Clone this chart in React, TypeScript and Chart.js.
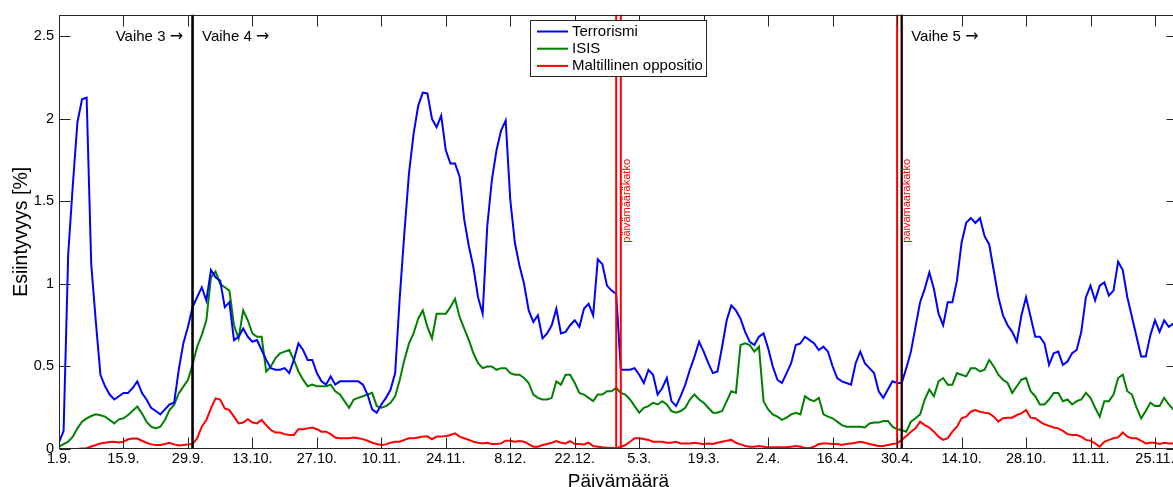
import React, { useEffect, useRef } from 'react';
import { Chart, registerables } from 'chart.js';

Chart.register(...registerables);

// Day index 0..243 over three date segments: 1.9.–31.12. | 1.3.–30.4. | 1.10.–30.11.
const tickIndex = [0, 14, 28, 42, 56, 70, 84, 98, 112, 126, 140, 154, 168, 182, 196, 210, 224, 238];
const tickLabels = ['1.9.', '15.9.', '29.9.', '13.10.', '27.10.', '10.11.', '24.11.', '8.12.', '22.12.', '5.3.', '19.3.', '2.4.', '16.4.', '30.4.', '14.10.', '28.10.', '11.11.', '25.11.'];
const yTicks = [0, 0.5, 1, 1.5, 2, 2.5];
const yTickLabels = ['0', '0.5', '1', '1.5', '2', '2.5'];

const seriesNames = ['Terrorismi', 'ISIS', 'Maltillinen oppositio'];
const seriesColors = ['#0000ff', '#008000', '#ff0000'];

const terrorismi = [
  0.04, 0.11, 1.18, 1.60, 1.98, 2.12, 2.13, 1.12, 0.77, 0.45,
  0.38, 0.33, 0.30, 0.32, 0.34, 0.34, 0.37, 0.41, 0.34, 0.30,
  0.25, 0.23, 0.21, 0.24, 0.27, 0.28, 0.48, 0.64, 0.74, 0.86,
  0.92, 0.98, 0.90, 1.085, 1.04, 1.02, 0.86, 0.89, 0.66, 0.68,
  0.73, 0.68, 0.65, 0.66, 0.60, 0.54, 0.49, 0.48, 0.48, 0.49,
  0.46, 0.54, 0.64, 0.60, 0.54, 0.54, 0.46, 0.41, 0.39, 0.44,
  0.39, 0.41, 0.41, 0.41, 0.41, 0.41, 0.39, 0.33, 0.24, 0.22,
  0.27, 0.31, 0.36, 0.46, 0.92, 1.31, 1.67, 1.91, 2.08, 2.16,
  2.155, 2.00, 1.95, 2.02, 1.81, 1.73, 1.73, 1.65, 1.39, 1.23,
  1.10, 0.92, 0.82, 1.35, 1.63, 1.81, 1.93, 1.99, 1.51, 1.25,
  1.11, 1.00, 0.84, 0.77, 0.81, 0.67, 0.70, 0.75, 0.85, 0.70,
  0.71, 0.75, 0.78, 0.74, 0.85, 0.88, 0.81, 1.15, 1.12, 0.99,
  0.96, 0.94, 0.48, 0.48, 0.48, 0.49, 0.45, 0.40, 0.48, 0.45,
  0.33, 0.37, 0.43, 0.29, 0.26, 0.32, 0.39, 0.48, 0.56, 0.65,
  0.59, 0.52, 0.46, 0.47, 0.62, 0.78, 0.87, 0.84, 0.79, 0.71,
  0.65, 0.63, 0.68, 0.70, 0.61, 0.50, 0.42, 0.40, 0.46, 0.52,
  0.63, 0.64, 0.68, 0.66, 0.64, 0.60, 0.62, 0.59, 0.50, 0.43,
  0.41, 0.40, 0.39, 0.52, 0.59, 0.52, 0.49, 0.46, 0.35, 0.31,
  0.36, 0.41, 0.40, 0.40, 0.49, 0.59, 0.74, 0.89, 0.97, 1.07,
  0.97, 0.82, 0.75, 0.89, 0.89, 1.02, 1.25, 1.37, 1.40, 1.37,
  1.40, 1.29, 1.24, 1.08, 0.92, 0.81, 0.75, 0.71, 0.65, 0.81,
  0.92, 0.80, 0.68, 0.68, 0.64, 0.51, 0.58, 0.59, 0.51, 0.53,
  0.58, 0.60, 0.71, 0.92, 0.99, 0.90, 0.99, 1.01, 0.93, 0.96,
  1.135, 1.085, 0.92, 0.80, 0.68, 0.56, 0.56, 0.69, 0.78, 0.71,
  0.78, 0.74, 0.76, 0.76,
];

const isis = [
  0.014, 0.03, 0.045, 0.075, 0.125, 0.165, 0.185, 0.20, 0.21, 0.205,
  0.196, 0.176, 0.155, 0.18, 0.186, 0.206, 0.232, 0.257, 0.216, 0.166,
  0.135, 0.125, 0.135, 0.176, 0.236, 0.267, 0.337, 0.378, 0.418, 0.51,
  0.62, 0.69, 0.78, 1.04, 1.075, 1.00, 0.98, 0.96, 0.75, 0.67,
  0.84, 0.78, 0.70, 0.68, 0.68, 0.47, 0.50, 0.55, 0.58, 0.59,
  0.60, 0.54, 0.47, 0.42, 0.38, 0.39, 0.38, 0.38, 0.38, 0.39,
  0.35, 0.33, 0.29, 0.25, 0.30, 0.31, 0.32, 0.33, 0.34, 0.26,
  0.25, 0.26, 0.28, 0.32, 0.42, 0.54, 0.64, 0.70, 0.79, 0.84,
  0.74, 0.67, 0.82, 0.82, 0.82, 0.86, 0.91, 0.80, 0.73, 0.66,
  0.58, 0.52, 0.49, 0.50, 0.50, 0.48, 0.49, 0.49, 0.46, 0.45,
  0.45, 0.43, 0.40, 0.33, 0.31, 0.30, 0.30, 0.31, 0.41, 0.39,
  0.45, 0.45, 0.40, 0.34, 0.33, 0.31, 0.29, 0.33, 0.33, 0.35,
  0.35, 0.37, 0.34, 0.33, 0.30, 0.26, 0.22, 0.25, 0.26, 0.28,
  0.27, 0.29, 0.27, 0.23, 0.22, 0.23, 0.25, 0.30, 0.33, 0.30,
  0.28, 0.25, 0.22, 0.22, 0.23, 0.29, 0.35, 0.34, 0.63, 0.64,
  0.63, 0.59, 0.62, 0.29, 0.24, 0.21, 0.196, 0.176, 0.19, 0.21,
  0.22, 0.21, 0.32, 0.30, 0.29, 0.31, 0.21, 0.196, 0.186, 0.166,
  0.145, 0.135, 0.135, 0.135, 0.135, 0.13, 0.155, 0.16, 0.16, 0.17,
  0.17, 0.135, 0.12, 0.115, 0.105, 0.166, 0.186, 0.21, 0.30, 0.36,
  0.32, 0.41, 0.43, 0.39, 0.39, 0.46, 0.45, 0.44, 0.49, 0.49,
  0.47, 0.48, 0.54, 0.50, 0.45, 0.42, 0.40, 0.34, 0.38, 0.42,
  0.43, 0.35, 0.32, 0.27, 0.27, 0.30, 0.34, 0.34, 0.29, 0.30,
  0.27, 0.29, 0.30, 0.34, 0.31, 0.25, 0.196, 0.29, 0.29, 0.33,
  0.43, 0.45, 0.35, 0.33, 0.25, 0.186, 0.23, 0.28, 0.26, 0.26,
  0.31, 0.27, 0.24, 0.24,
];

const maltillinen = [
  0, 0, 0, 0, 0, 0.003, 0.005, 0.015, 0.024, 0.034,
  0.038, 0.042, 0.044, 0.04, 0.044, 0.059, 0.063, 0.063, 0.05, 0.038,
  0.028, 0.024, 0.024, 0.03, 0.038, 0.028, 0.022, 0.024, 0.028, 0.03,
  0.065, 0.135, 0.176, 0.246, 0.307, 0.30, 0.246, 0.236, 0.196, 0.155,
  0.16, 0.18, 0.16, 0.155, 0.176, 0.145, 0.115, 0.10, 0.10, 0.09,
  0.085, 0.085, 0.12, 0.12, 0.125, 0.13, 0.12, 0.105, 0.105, 0.09,
  0.07, 0.065, 0.065, 0.065, 0.069, 0.065, 0.06, 0.05, 0.038, 0.03,
  0.024, 0.028, 0.038, 0.044, 0.044, 0.055, 0.065, 0.065, 0.07, 0.075,
  0.077, 0.059, 0.075, 0.075, 0.079, 0.085, 0.095, 0.075, 0.065, 0.055,
  0.044, 0.038, 0.034, 0.038, 0.03, 0.03, 0.034, 0.05, 0.05, 0.044,
  0.048, 0.044, 0.03, 0.014, 0.014, 0.024, 0.03, 0.038, 0.048, 0.038,
  0.034, 0.048, 0.03, 0.03, 0.028, 0.038, 0.018, 0.014, 0.01, 0.008,
  0.006, 0.004, 0.014, 0.024, 0.044, 0.065, 0.065, 0.06, 0.055, 0.044,
  0.044, 0.044, 0.038, 0.038, 0.044, 0.034, 0.034, 0.034, 0.038, 0.034,
  0.03, 0.034, 0.03, 0.038, 0.044, 0.05, 0.055, 0.038, 0.028, 0.018,
  0.014, 0.014, 0.018, 0.014, 0.01, 0.01, 0.01, 0.01, 0.01, 0.014,
  0.018, 0.014, 0.006, 0.006, 0.014, 0.03, 0.034, 0.034, 0.03, 0.03,
  0.024, 0.03, 0.034, 0.038, 0.044, 0.038, 0.03, 0.024, 0.018, 0.018,
  0.024, 0.03, 0.034, 0.055, 0.079, 0.105, 0.125, 0.166, 0.145, 0.13,
  0.105, 0.075, 0.055, 0.065, 0.105, 0.135, 0.186, 0.196, 0.226, 0.236,
  0.226, 0.22, 0.216, 0.196, 0.166, 0.186, 0.19, 0.19, 0.206, 0.216,
  0.236, 0.19, 0.186, 0.166, 0.15, 0.14, 0.13, 0.125, 0.11, 0.09,
  0.085, 0.085, 0.075, 0.055, 0.05, 0.034, 0.014, 0.044, 0.055, 0.065,
  0.07, 0.10, 0.075, 0.065, 0.065, 0.05, 0.034, 0.038, 0.038, 0.03,
  0.038, 0.034, 0.034, 0.034,
];

// Date breaks (last day of a segment, first day of the next)
const breakLines = [121, 122, 182, 183];
const breakTextAt = [123.3, 184.2];
const breakText = 'päivämääräkatko';
// Phase boundaries
const phaseLines = [29, 183];
const phaseLineWidths = [2.6, 2];
const phaseTexts = ['Vaihe 3 →', 'Vaihe 4 →', 'Vaihe 5 →'];
const phaseTextAnchor = [29, 29, 183];
const phaseTextSide = [-1, 1, 1];

const FONT = '"Liberation Sans", Arial, Helvetica, sans-serif';
const ARROW_FONT = '"DejaVu Sans", sans-serif';
const X_MAX = 243;
const Y_MAX = 2.632;

const toXY = (arr: number[]) => arr.map((v, i) => ({ x: i, y: v }));

const overlayPlugin = {
  id: 'matlabOverlay',
  afterDatasetsDraw(chart: any) {
    const { ctx, chartArea: a, scales } = chart;
    const xs = scales.x;
    const ys = scales.y;
    ctx.save();

    // break lines
    breakLines.forEach((i) => {
      const px = xs.getPixelForValue(i);
      ctx.strokeStyle = '#ff0000';
      ctx.lineWidth = 2;
      ctx.beginPath();
      ctx.moveTo(px, a.top);
      ctx.lineTo(px, a.bottom);
      ctx.stroke();
    });
    // phase lines
    phaseLines.forEach((i, k) => {
      const px = xs.getPixelForValue(i);
      ctx.strokeStyle = '#000000';
      ctx.lineWidth = phaseLineWidths[k];
      ctx.beginPath();
      ctx.moveTo(px, a.top);
      ctx.lineTo(px, a.bottom);
      ctx.stroke();
    });

    // break texts (rotated)
    ctx.fillStyle = '#ff0000';
    ctx.font = `11px ${FONT}`;
    breakTextAt.forEach((i) => {
      ctx.save();
      ctx.translate(xs.getPixelForValue(i), ys.getPixelForValue(1.25));
      ctx.rotate(-Math.PI / 2);
      ctx.textAlign = 'left';
      ctx.textBaseline = 'middle';
      ctx.fillText(breakText, 0, 0);
      ctx.restore();
    });

    // phase texts: words in Arial-like font, arrow in a font with a long arrow glyph
    ctx.fillStyle = '#000000';
    ctx.textBaseline = 'middle';
    ctx.textAlign = 'left';
    const ty = ys.getPixelForValue(2.5);
    phaseTexts.forEach((t, k) => {
      const words = t.slice(0, -1);
      const arrow = t.slice(-1);
      ctx.font = `15px ${FONT}`;
      const ww = ctx.measureText(words).width;
      ctx.font = `16px ${ARROW_FONT}`;
      const aw = ctx.measureText(arrow).width;
      const anchor = xs.getPixelForValue(phaseTextAnchor[k]);
      const x0 = phaseTextSide[k] < 0 ? anchor - 9.5 - ww - aw : anchor + 9.5;
      ctx.font = `15px ${FONT}`;
      ctx.fillText(words, x0, ty);
      ctx.font = `16px ${ARROW_FONT}`;
      ctx.fillText(arrow, x0 + ww, ty);
    });

    // axes box
    ctx.strokeStyle = '#262626';
    ctx.lineWidth = 1;
    const L = Math.round(a.left) + 0.5;
    const R = Math.round(a.right) - 0.5;
    const T = Math.round(a.top) + 0.5;
    const B = Math.round(a.bottom) - 0.5;
    ctx.strokeRect(L, T, R - L, B - T);
    // inward ticks
    ctx.beginPath();
    tickIndex.forEach((i) => {
      const px = Math.round(xs.getPixelForValue(i)) + 0.5;
      ctx.moveTo(px, B);
      ctx.lineTo(px, B - 11);
      ctx.moveTo(px, T);
      ctx.lineTo(px, T + 11);
    });
    yTicks.forEach((v) => {
      const py = Math.round(ys.getPixelForValue(v)) + 0.5;
      ctx.moveTo(L, py);
      ctx.lineTo(L + 11, py);
      ctx.moveTo(R, py);
      ctx.lineTo(R - 11, py);
    });
    ctx.stroke();

    // axis titles
    ctx.fillStyle = '#000000';
    ctx.font = `19px ${FONT}`;
    ctx.textAlign = 'center';
    ctx.textBaseline = 'alphabetic';
    ctx.fillText('Päivämäärä', (a.left + a.right) / 2, 486.5);
    ctx.save();
    ctx.translate(27, (a.top + a.bottom) / 2);
    ctx.rotate(-Math.PI / 2);
    ctx.font = `19.5px ${FONT}`;
    ctx.fillText('Esiintyvyys [%]', 0, 0);
    ctx.restore();

    // legend
    const lx = 530.5, ly = 20.5, lw = 176, lh = 56;
    ctx.fillStyle = '#ffffff';
    ctx.fillRect(lx, ly, lw, lh);
    ctx.strokeStyle = '#262626';
    ctx.lineWidth = 1;
    ctx.strokeRect(lx, ly, lw, lh);
    ctx.font = `15px ${FONT}`;
    ctx.textAlign = 'left';
    ctx.textBaseline = 'middle';
    seriesNames.forEach((name, k) => {
      const ry = 31.5 + k * 17.2;
      ctx.strokeStyle = seriesColors[k];
      ctx.lineWidth = 2;
      ctx.beginPath();
      ctx.moveTo(537, ry);
      ctx.lineTo(568, ry);
      ctx.stroke();
      ctx.fillStyle = '#000000';
      ctx.fillText(name, 572, ry);
    });

    ctx.restore();
  },
};

export default function App() {
  const ref = useRef<HTMLCanvasElement>(null);

  useEffect(() => {
    if (!ref.current) return;
    const seriesData = [terrorismi, isis, maltillinen];
    const chart = new Chart(ref.current, {
      type: 'line',
      data: {
        datasets: seriesData.map((arr, k) => ({
          label: seriesNames[k],
          data: toXY(arr),
          borderColor: seriesColors[k],
          backgroundColor: seriesColors[k],
          borderWidth: 2,
          pointRadius: 0,
          tension: 0,
          fill: false,
        })),
      },
      options: {
        animation: false,
        responsive: false,
        devicePixelRatio: 1,
        layout: { padding: { top: 14.7, right: 12, left: 0, bottom: 0 } },
        plugins: {
          legend: { display: false },
          tooltip: { enabled: false },
          title: { display: false },
        },
        scales: {
          x: {
            type: 'linear',
            min: 0,
            max: X_MAX,
            grid: { display: false, drawTicks: false },
            border: { display: false },
            afterBuildTicks: (scale: any) => {
              scale.ticks = tickIndex.map((v) => ({ value: v }));
            },
            afterFit: (scale: any) => {
              scale.height = 38;
            },
            ticks: {
              autoSkip: false,
              maxRotation: 0,
              padding: 1,
              color: '#000000',
              font: { family: FONT, size: 14.5 },
              callback: (v: any) => {
                const k = tickIndex.indexOf(Number(v));
                return k >= 0 ? tickLabels[k] : '';
              },
            },
          },
          y: {
            type: 'linear',
            min: 0,
            max: Y_MAX,
            grid: { display: false, drawTicks: false },
            border: { display: false },
            afterBuildTicks: (scale: any) => {
              scale.ticks = yTicks.map((v) => ({ value: v }));
            },
            afterFit: (scale: any) => {
              scale.width = 59;
            },
            ticks: {
              padding: 5,
              color: '#000000',
              font: { family: FONT, size: 14.5 },
              callback: (v: any) => {
                const k = yTicks.indexOf(Number(v));
                return k >= 0 ? yTickLabels[k] : '';
              },
            },
          },
        },
      },
      plugins: [overlayPlugin],
    } as any);
    return () => chart.destroy();
  }, []);

  return (
    <div
      style={{
        position: 'fixed',
        left: 0,
        top: 0,
        width: 1173,
        height: 487,
        overflow: 'hidden',
        background: '#ffffff',
      }}
    >
      <canvas ref={ref} width={1190} height={487} style={{ display: 'block', width: 1190, height: 487 }} />
    </div>
  );
}
